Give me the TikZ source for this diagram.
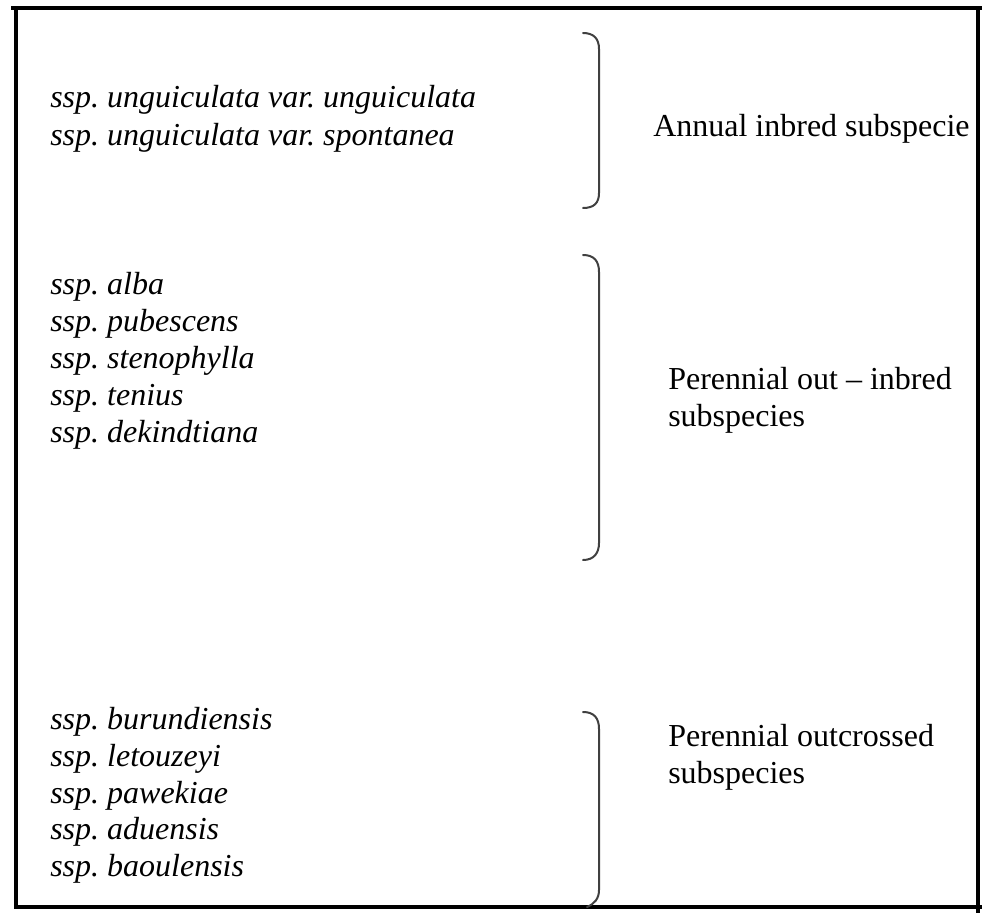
\documentclass[tikz,border=0pt]{standalone}
\usepackage{fontspec}
\setmainfont{Liberation Serif}
\frenchspacing
\begin{document}
\begin{tikzpicture}[x=0.75pt,y=-0.75pt,
  frame/.style={line width=2.3pt,black},
  brace/.style={line width=1.5pt,draw=black!75,line cap=round},
  sp/.style={anchor=base west,inner sep=0pt,font=\fontsize{24}{28}\selectfont\itshape},
  lab/.style={anchor=base west,inner sep=0pt,font=\fontsize{24}{28}\selectfont}]
\useasboundingbox (0,0) rectangle (982,913);
% frame
\draw[frame] (11,8) -- (982,8);
\draw[frame] (16,8) -- (16,907);
\draw[frame] (978,8) -- (978,913);
\draw[frame] (14,907) -- (982,907);
% braces
\draw[brace] (583,33) .. controls (594,33) and (599,39) .. (599,49) -- (599,193) .. controls (599,203) and (594,208) .. (583,208);
\draw[brace] (583,255) .. controls (594,255) and (599,261) .. (599,272) -- (599,543) .. controls (599,553) and (594,560) .. (583,560);
\draw[brace] (583,712) .. controls (594,712) and (599,718) .. (599,729) -- (599,890) .. controls (599,899) and (594,904) .. (587,907);
% group 1
\node[sp] (a1) at (50,108) {ssp. unguiculata var. unguiculata};
\node[sp] (a2) at (50,146) {ssp. unguiculata var. spontanea};
\node[lab] (la) at (653,137) {Annual inbred subspecie};
% group 2
\node[sp] (b1) at (50,294) {ssp. alba};
\node[sp] (b2) at (50,331) {ssp. pubescens};
\node[sp] (b3) at (50,368) {ssp. stenophylla};
\node[sp] (b4) at (50,405) {ssp. tenius};
\node[sp] (b5) at (50,442) {ssp. dekindtiana};
\node[lab] (lb1) at (668,389) {Perennial out -- inbred};
\node[lab] (lb2) at (668,426) {subspecies};
% group 3
\node[sp] (c1) at (50,729) {ssp. burundiensis};
\node[sp] (c2) at (50,766) {ssp. letouzeyi};
\node[sp] (c3) at (50,803) {ssp. pawekiae};
\node[sp] (c4) at (50,839) {ssp. aduensis};
\node[sp] (c5) at (50,876) {ssp. baoulensis};
\node[lab] (lc1) at (668,746) {Perennial outcrossed};
\node[lab] (lc2) at (668,783) {subspecies};
\end{tikzpicture}
\end{document}
